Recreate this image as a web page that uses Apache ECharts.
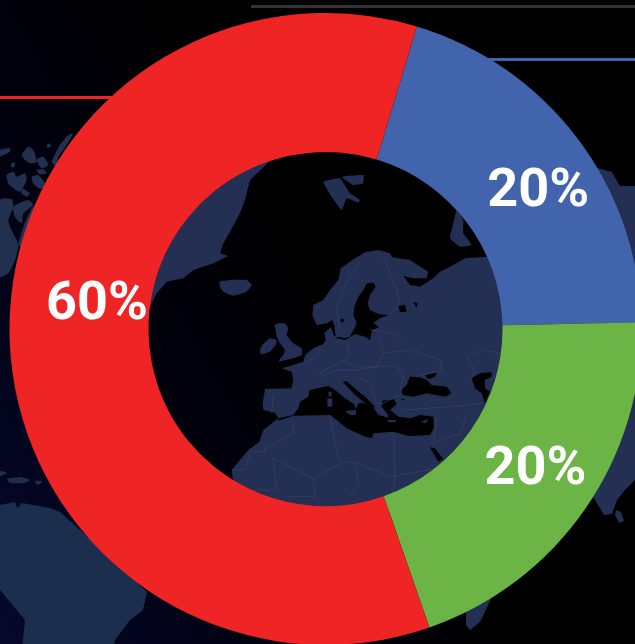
<!DOCTYPE html>
<html>
<head>
<meta charset="utf-8">
<style>html,body{margin:0;padding:0;background:#000}#c{width:635px;height:644px}</style>
<script src="https://cdn.jsdelivr.net/npm/echarts@6/dist/echarts.min.js"></script>
</head>
<body>
<div id="c"></div>
<script>
// Share of each segment, clockwise from the blue one
const categories = ['Blue', 'Green', 'Red'];
const shares = [20, 20, 60];
const segmentColors = ['#4164ac', '#6bb445', '#ee2425'];

// Backdrop map: outlines are noted at 3x in local frames and mapped to the page
const frame = (ox, oy) => pts => pts.map(([x, y]) => [ox + x / 3, oy + y / 3]);
const wide = frame(150, 150);      // the whole ring opening
const north = frame(255, 240);     // Scandinavia and the British Isles
const south = frame(250, 360);     // Mediterranean basin
const arctic = frame(0, 130);      // Canadian archipelago

const archipelago = [
  [[0,60],[30,55],[30,65],[10,75],[0,80]],
  [[65,75],[85,50],[100,60],[110,95],[90,100],[75,90]],
  [[110,90],[130,80],[145,105],[125,115]],
  [[110,120],[130,118],[140,130],[120,133]],
  [[140,45],[150,40],[152,50],[142,52]],
  [[35,100],[45,98],[42,112],[33,110]],
  [[20,135],[40,125],[50,140],[75,130],[80,150],[60,185],[40,175],[25,160]],
  [[95,140],[115,135],[135,160],[130,175],[115,175],[100,160]],
  [[65,175],[90,190],[80,200],[65,190]],
  [[155,95],[180,45],[205,15],[220,10],[190,60],[175,80],[170,110]],
  [[0,210],[35,208],[40,230],[25,270],[30,290],[50,330],[55,350],[45,390],[25,430],[0,440]],
  [[40,230],[85,210],[100,225],[70,250],[65,280],[45,260]],
  [[70,290],[95,235],[110,225],[80,300],[65,350],[55,345]]
].map(arctic);

// Outer landmasses, in page pixels
const caribbean = [
  [[0,471],[7,473],[0,476]],
  [[7,479],[20,477],[30,480],[24,483],[10,483]],
  [[35,481],[42,481],[40,484],[36,484]]
];
const asiaEdge = [
  [[597,168],[612,172],[620,186],[640,186],[640,475],[625,490],[617,500],[612,514],[604,515],[592,495],[560,420]],
  [[616,510],[621,512],[624,521],[619,523],[615,515]],
  [[492,597],[480,622],[470,630],[466,625],[466,612],[470,600]]
];
const southAmerica = [[0,505],[15,502],[17,508],[22,503],[50,508],[60,512],[80,530],[147,592],[143,610],[130,620],[115,640],[112,650],[22,650],[25,620],[0,590]];

// Greenland and the main Eurasia and Africa outline
const greenland = wide([[355,38],[300,90],[285,150],[270,190],[240,245],[220,280],[210,310],[235,318],[190,340],[130,360],[100,385],[50,395],[20,430],[0,470],[-30,470],[-30,0],[355,0]]);
const eurasiaAfrica = [
  ...north([[257,85],[275,72],[300,55],[330,37],[370,30],[405,40],[412,52]]),
  ...wide([[780,330],[835,365],[830,385],[790,385],[760,378],[780,405],[810,410],[850,385],[870,365],[900,350],[945,325],[1010,320],[1075,320],[1075,1085],[250,1085],[250,1000],[245,960]]),
  ...south([[-5,270],[28,245],[40,210],[75,182],[85,175],[75,158],[40,150],[38,130],[45,87],[125,85],[130,60],[125,35],[95,25],[120,18],[160,5]]),
  ...north([[150,345],[175,325],[205,312],[212,300],[208,278],[228,262],[236,285],[242,290],[238,258],[232,240],[215,250],[185,255],[172,225],[175,195],[205,180],[225,150],[250,120]])
];
const islands = [
  ...[
    [[58,255],[72,250],[90,250],[100,265],[95,285],[115,310],[140,325],[140,345],[115,355],[70,365],[85,345],[90,330],[75,310],[65,290],[62,270]],
    [[22,315],[45,295],[65,300],[62,315],[45,335],[18,343],[15,330]]
  ].map(north),
  ...[
    [[208,395],[240,390],[290,390],[305,405],[290,425],[250,437],[220,425],[210,410]],
    [[520,95],[570,85],[600,130],[630,150],[625,158],[590,145],[575,180],[545,140]],
    [[575,80],[640,75],[640,100],[610,105]],
    [[920,180],[940,210],[940,250],[965,285],[930,290],[900,265],[910,220]]
  ].map(wide)
];

// Inland seas and lakes cut back out of the land
const seas = [
  north([[335,130],[355,128],[362,140],[345,165],[338,190],[345,210],[370,222],[400,225],[375,235],[355,248],[372,262],[352,270],[345,300],[330,290],[300,282],[270,300],[240,293],[250,290],[268,295],[285,290],[298,265],[305,250],[295,225],[298,200],[310,170],[325,150]]),
  north([[256,238],[268,238],[266,247],[257,246]]),
  south([[85,175],[130,165],[145,145],[150,125],[175,110],[178,90],[235,78],[258,92],[285,115],[312,132],[318,148],[325,130],[340,128],[372,145],[385,165],[405,170],[412,175],[415,165],[395,140],[398,122],[432,118],[440,132],[420,150],[445,170],[480,175],[510,165],[550,170],[552,205],[540,225],[475,228],[430,215],[370,220],[365,235],[345,230],[290,205],[260,180],[240,165],[130,167],[85,182]]),
  south([[278,65],[290,63],[320,90],[345,110],[375,140],[365,145],[340,125],[310,100]]),
  south([[480,50],[510,52],[530,60],[545,75],[590,80],[605,100],[585,110],[530,100],[490,110],[458,105],[455,90],[470,75]]),
  south([[525,45],[560,38],[555,50],[535,58]]),
  south([[665,55],[690,40],[725,37],[725,50],[705,60],[705,85],[720,95],[705,130],[695,100],[675,85]]),
  south([[450,117],[465,117],[460,120]]),
  south([[540,262],[555,265],[580,298],[565,305]]),
  wide([[745,468],[765,465],[770,485],[750,487]]),
  wide([[790,455],[803,460],[800,473]]),
  wide([[855,340],[875,335],[870,355]])
];
const seaIslands = [
  [[285,153],[318,150],[318,165],[300,165]],
  [[232,115],[247,115],[247,140],[232,140]],
  [[235,95],[245,95],[245,108],[237,110]],
  [[512,185],[535,178],[528,190]],
  [[412,180],[440,180],[435,187],[415,186]]
].map(south);

// Country borders, faint over the land
const borders = [
  [[510,590],[500,620],[470,635]],
  [[590,575],[600,620],[570,640],[520,660],[505,680]],
  [[690,570],[700,610],[680,650],[620,650],[570,630]],
  [[780,600],[700,610]],
  [[790,600],[870,630],[875,660],[800,680]],
  [[660,540],[730,550],[790,610]],
  [[625,340],[590,400],[560,470],[570,540]],
  [[700,320],[740,420],[750,460],[720,490]],
  [[510,680],[560,660],[620,660],[680,650],[740,650],[760,680],[750,720]],
  [[620,680],[660,700],[680,760],[700,760],[745,735]],
  [[370,735],[365,790]],
  [[430,808],[430,850],[340,900],[350,905],[300,905],[285,960],[245,960]],
  [[370,925],[490,985],[580,935],[620,940],[725,980],[860,955]],
  [[540,795],[550,850],[565,925],[580,935]],
  [[730,850],[735,980],[725,1060]],
  [[490,985],[495,1040],[410,1040]],
  [[370,925],[380,1020],[300,1020]],
  [[615,940],[625,1000],[600,1040]],
  [[860,800],[850,880],[930,850],[950,790]],
  [[760,780],[900,770],[1000,760]],
  [[950,620],[1000,600],[1050,610]],
  [[950,620],[975,660],[960,690]]
].map(wide);

const landFill = '#232f53';
const borderStroke = '#3a4263';

// Leader rules behind the ring
const rules = [
  { x: 0, y: 96, width: 114, color: '#ee2425' },
  { x: 488, y: 58, width: 147, color: '#4164ac' },
  { x: 251, y: 5, width: 384, color: '#35333a' }
];

function landShape(points, fill, smooth) {
  return { type: 'polygon', shape: { points, smooth: smooth || 0 }, style: { fill }, silent: true };
}

const labelShift = [[14, 14], [5, -1], [21, -29]];

const chart = echarts.init(document.getElementById('c'), null, { renderer: 'canvas' });
chart.setOption({
  animation: false,
  backgroundColor: {
    type: 'linear', x: 0, y: 1, x2: 1, y2: 0.45,
    colorStops: [{ offset: 0, color: '#06082c' }, { offset: 0.35, color: '#01010f' }, { offset: 0.62, color: '#000000' }, { offset: 1, color: '#000000' }]
  },
  graphic: [
    ...archipelago.map(p => landShape(p, '#223050', 0.2)),
    ...caribbean.map(p => landShape(p, '#1b2e4e', 0.2)),
    ...asiaEdge.map(p => landShape(p, landFill)),
    landShape(southAmerica, '#1b2e4e'),
    ...rules.map(r => ({
      type: 'rect', shape: { x: r.x, y: r.y, width: r.width, height: 3 }, style: { fill: r.color }, silent: true
    })),
    landShape(greenland, landFill),
    landShape(eurasiaAfrica, landFill),
    ...islands.map(p => landShape(p, landFill, 0.1)),
    ...seas.map(p => landShape(p, '#000000')),
    ...seaIslands.map(p => landShape(p, landFill)),
    ...borders.map(p => ({
      type: 'polyline', shape: { points: p }, style: { stroke: borderStroke, lineWidth: 0.7, fill: null }, silent: true
    }))
  ],
  series: [{
    type: 'pie',
    center: [325.5, 329],
    radius: [177, 316],
    startAngle: 73.2,
    clockwise: true,
    silent: true,
    data: categories.map((name, i) => ({ name, value: shares[i], itemStyle: { color: segmentColors[i] } })),
    label: {
      position: 'inside',
      formatter: '{c}%',
      color: '#ffffff',
      fontFamily: 'Roboto',
      fontWeight: 'bold',
      fontSize: 54
    },
    labelLine: { show: false },
    labelLayout: params => ({ dx: labelShift[params.dataIndex][0], dy: labelShift[params.dataIndex][1] })
  }]
});
</script>
</body>
</html>
